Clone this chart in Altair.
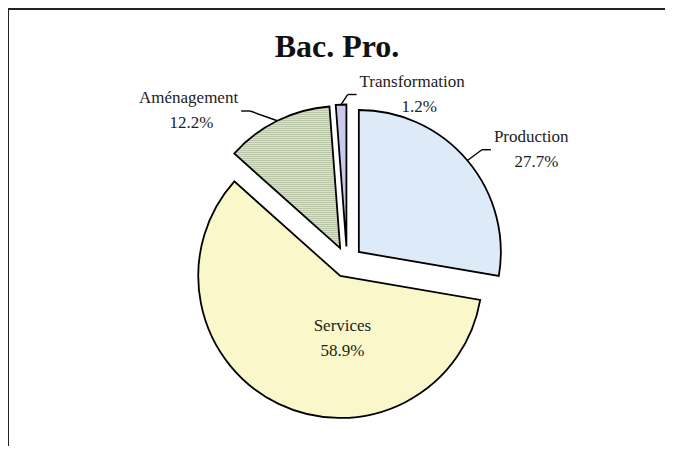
import altair as alt
import pandas as pd

# ---- data ----
categories = ["Production", "Services", "Aménagement", "Transformation"]
values = [27.7, 58.9, 12.2, 1.2]

# ---- style / layout (not data) ----
slice_colors = ["#ffffff", "#FAF8CB", "#D6D9C6", "#CACAEC"]
label_radius = [160, 63, 164, 152]          # distance of label anchor from slice apex
label_nudge_deg = [0.4, -27.7, -7.0, 2.6]   # angular nudge of label anchor
label_side = ["right", "inside", "left", "right"]

W, H = 657, 438
CX, CY = 339, 254       # pie centre (px)
R = 142                 # pie radius
D = 15.5                # explosion distance
FONT = "Liberation Serif"
FS = 17
LH = 25

df = pd.DataFrame({
    "category": categories,
    "value": values,
    "order": list(range(len(categories))),
    "lr": label_radius,
    "ln": label_nudge_deg,
    "side": label_side,
    "fillc": slice_colors,
})


def stripes(c1, c2, n, vertical=True):
    stops = []
    for i in range(n):
        a = i / n
        b = (i + 0.5) / n
        c = (i + 1) / n
        stops += [alt.GradientStop(color=c1, offset=a), alt.GradientStop(color=c1, offset=b),
                  alt.GradientStop(color=c2, offset=b), alt.GradientStop(color=c2, offset=c)]
    if vertical:
        return alt.LinearGradient(gradient="linear", stops=stops, x1=0, x2=1, y1=0, y2=0)
    return alt.LinearGradient(gradient="linear", stops=stops, x1=0, x2=0, y1=0, y2=1)


base = (
    alt.Chart(df)
    .transform_window(cum="sum(value)", sort=[alt.SortField("order")], frame=[None, 0])
    .transform_joinaggregate(total="sum(value)")
    .transform_calculate(t0="2*PI*(datum.cum-datum.value)/datum.total")
    .transform_calculate(t1="2*PI*datum.cum/datum.total")
    .transform_calculate(mid="(datum.t0+datum.t1)/2")
    .transform_calculate(ax=f"{CX}+{D}*sin(datum.mid)")
    .transform_calculate(ay=f"{CY}-{D}*cos(datum.mid)")
    .transform_calculate(px=f"datum.ax+{R}*sin(datum.mid)")
    .transform_calculate(py=f"datum.ay-{R}*cos(datum.mid)")
    .transform_calculate(la="datum.mid+datum.ln*PI/180")
    .transform_calculate(kx="datum.ax+datum.lr*sin(datum.la)")
    .transform_calculate(ky="datum.ay-datum.lr*cos(datum.la)")
    .transform_calculate(sgn="datum.side=='left' ? -1 : 1")
    .transform_calculate(ex="datum.kx+datum.sgn*9")
    .transform_calculate(tx="datum.side=='inside' ? datum.kx : datum.kx+datum.sgn*12")
    .transform_calculate(half=f"length(datum.category)*{0.5 * FS / 2}")
    .transform_calculate(tx2="datum.side=='inside' ? datum.tx : datum.tx+datum.sgn*datum.half")
    .transform_calculate(ty1=f"datum.ky-{LH / 2}")
    .transform_calculate(ty2=f"datum.ky+{LH / 2}")
    .transform_calculate(pct="format(datum.value, '.1f') + '%'")
)

arc_enc = dict(
    x=alt.X("ax:Q", scale=None, axis=None),
    y=alt.Y("ay:Q", scale=None, axis=None),
    theta=alt.Theta("t0:Q", scale=None, stack=None),
    theta2=alt.Theta2("t1:Q"),
)
arc_style = dict(radius=R, stroke="black", strokeWidth=1.8, strokeJoin="miter")

arcs_solid = (
    base.transform_filter("datum.category=='Services' || datum.category=='Transformation'")
    .mark_arc(**arc_style)
    .encode(fill=alt.Fill("fillc:N", scale=None), **arc_enc)
)
arcs_prod = (
    base.transform_filter("datum.category=='Production'")
    .mark_arc(fill="#DDEBF8", **arc_style)
    .encode(**arc_enc)
)
arcs_amen = (
    base.transform_filter("datum.category=='Aménagement'")
    .mark_arc(fill=stripes("#BAC6A8", "#E2DDD1", 71, False), **arc_style)
    .encode(**arc_enc)
)

outside = base.transform_filter("datum.side!='inside'")
lead1 = outside.mark_rule(color="black", strokeWidth=1.4).encode(
    x=alt.X("px:Q", scale=None), y=alt.Y("py:Q", scale=None),
    x2=alt.X2("kx:Q"), y2=alt.Y2("ky:Q"),
)
lead2 = outside.mark_rule(color="black", strokeWidth=1.4).encode(
    x=alt.X("kx:Q", scale=None), y=alt.Y("ky:Q", scale=None),
    x2=alt.X2("ex:Q"), y2=alt.Y2("ky:Q"),
)

txt_style = dict(baseline="middle", font=FONT, fontSize=FS, color="#222222")


def label_layers(side, align):
    sub = base.transform_filter(f"datum.side=='{side}'")
    l1 = sub.mark_text(align=align, **txt_style).encode(
        x=alt.X("tx:Q", scale=None), y=alt.Y("ty1:Q", scale=None), text=alt.Text("category:N"))
    l2 = sub.mark_text(align="center", **txt_style).encode(
        x=alt.X("tx2:Q", scale=None), y=alt.Y("ty2:Q", scale=None), text=alt.Text("pct:N"))
    return [l1, l2]


labels = label_layers("right", "left") + label_layers("left", "right") + label_layers("inside", "center")

one = pd.DataFrame({"t": ["Bac. Pro."]})
title = alt.Chart(one).mark_text(font=FONT, fontSize=32, fontWeight="bold", baseline="middle",
                                  align="center", color="#111111").encode(
    text="t:N", x=alt.value(329), y=alt.value(39))
frame_top = alt.Chart(one).mark_rule(color="#222222", strokeWidth=2).encode(
    x=alt.value(0), x2=alt.value(W), y=alt.value(1))
frame_left = alt.Chart(one).mark_rule(color="#222222", strokeWidth=2).encode(
    x=alt.value(0), y=alt.value(0), y2=alt.value(H))

chart = alt.layer(
    frame_top, frame_left, arcs_solid, arcs_prod, arcs_amen, lead1, lead2, *labels, title
).properties(width=W, height=H, autosize="none", padding=0).configure_view(strokeWidth=0)

chart.save("out.html", embed_options={"renderer": "svg", "actions": False})
